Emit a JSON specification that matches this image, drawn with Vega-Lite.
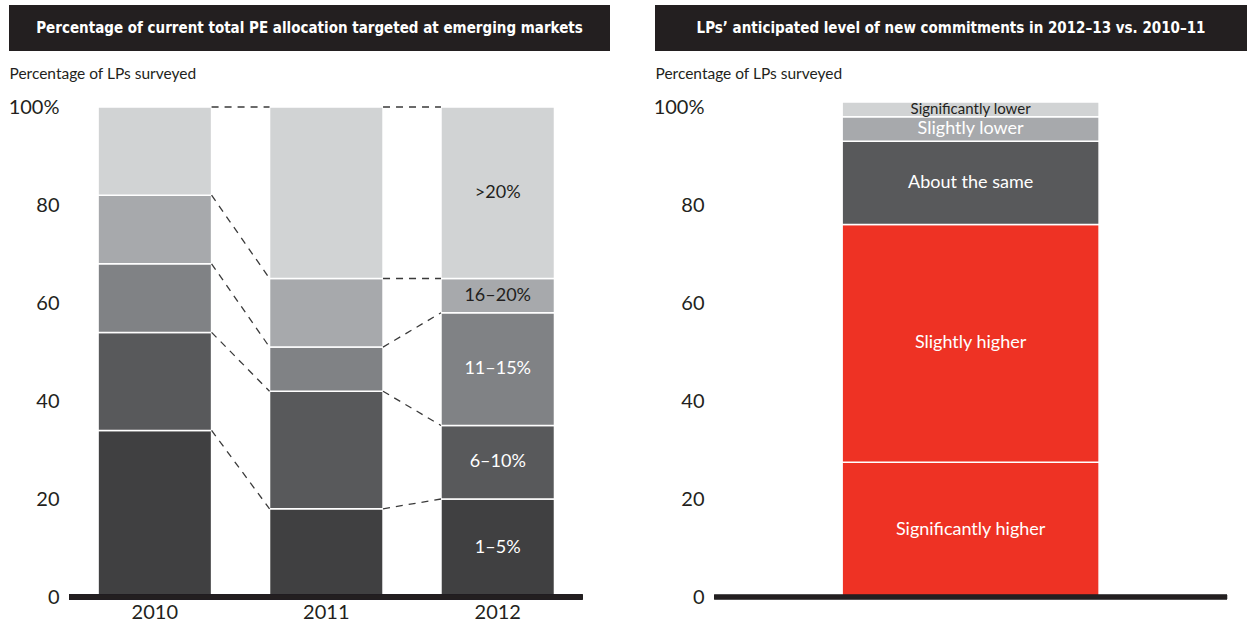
{
  "$schema": "https://vega.github.io/schema/vega-lite/v6.json",
  "padding": {"left": 8, "top": 5, "right": 0, "bottom": 0},
  "background": "white",
  "config": {"view": {"stroke": null}, "font": "Lato"},
  "datasets": {
    "alloc": [
      {"year": "2010", "cat": "1–5%", "value": 34, "order": 1},
      {"year": "2010", "cat": "6–10%", "value": 20, "order": 2},
      {"year": "2010", "cat": "11–15%", "value": 14, "order": 3},
      {"year": "2010", "cat": "16–20%", "value": 14, "order": 4},
      {"year": "2010", "cat": ">20%", "value": 18, "order": 5},
      {"year": "2011", "cat": "1–5%", "value": 18, "order": 1},
      {"year": "2011", "cat": "6–10%", "value": 24, "order": 2},
      {"year": "2011", "cat": "11–15%", "value": 9, "order": 3},
      {"year": "2011", "cat": "16–20%", "value": 14, "order": 4},
      {"year": "2011", "cat": ">20%", "value": 35, "order": 5},
      {"year": "2012", "cat": "1–5%", "value": 20, "order": 1},
      {"year": "2012", "cat": "6–10%", "value": 15, "order": 2},
      {"year": "2012", "cat": "11–15%", "value": 23, "order": 3},
      {"year": "2012", "cat": "16–20%", "value": 7, "order": 4},
      {"year": "2012", "cat": ">20%", "value": 35, "order": 5}
    ],
    "links": [
      {"from": "2010", "to": "2011", "a": 100, "b": 100},
      {"from": "2010", "to": "2011", "a": 82, "b": 65},
      {"from": "2010", "to": "2011", "a": 68, "b": 51},
      {"from": "2010", "to": "2011", "a": 54, "b": 42},
      {"from": "2010", "to": "2011", "a": 34, "b": 18},
      {"from": "2011", "to": "2012", "a": 100, "b": 100},
      {"from": "2011", "to": "2012", "a": 65, "b": 65},
      {"from": "2011", "to": "2012", "a": 51, "b": 58},
      {"from": "2011", "to": "2012", "a": 42, "b": 35},
      {"from": "2011", "to": "2012", "a": 18, "b": 20}
    ],
    "commit": [
      {"grp": "LPs", "cat": "Significantly higher", "value": 27.5, "order": 1},
      {"grp": "LPs", "cat": "Slightly higher", "value": 48.5, "order": 2},
      {"grp": "LPs", "cat": "About the same", "value": 17, "order": 3},
      {"grp": "LPs", "cat": "Slightly lower", "value": 5, "order": 4},
      {"grp": "LPs", "cat": "Significantly lower", "value": 3, "order": 5}
    ]
  },
  "spacing": 43,
  "resolve": {"scale": {"color": "independent", "size": "independent"}},
  "hconcat": [
    {
      "spacing": 15,
      "resolve": {"scale": {"color": "independent"}},
      "vconcat": [
        {
          "width": 601,
          "height": 46,
          "view": {"fill": "#231f20", "stroke": null},
          "data": {"values": [{"t": "Percentage of current total PE allocation targeted at emerging markets"}]},
          "mark": {"type": "text", "color": "white", "font": "DejaVu Sans Condensed", "fontWeight": "bold", "fontSize": 15, "align": "center", "baseline": "middle"},
          "encoding": {"text": {"field": "t"}}
        },
        {
          "width": 573,
          "height": 490,
          "data": {"name": "alloc"},
          "layer": [
            {
              "mark": {"type": "bar", "stroke": "white", "strokeWidth": 1.5},
              "encoding": {
                "x": {
                  "field": "year", "type": "nominal",
                  "scale": {"paddingInner": 0.338, "paddingOuter": 0.34, "align": 0.764},
                  "axis": {"title": null, "labelAngle": 0, "labelFontSize": 20, "labelColor": "#231f20", "labelPadding": 5, "ticks": false, "domain": false}
                },
                "y": {
                  "field": "value", "type": "quantitative", "stack": "zero",
                  "scale": {"domain": [0, 100], "nice": false},
                  "axis": {"offset": -60, "title": "Percentage of LPs surveyed", "titleAngle": 0, "titleAlign": "left", "titleBaseline": "middle", "titleX": -60, "titleY": -34, "titleFontSize": 15.5, "titleFontWeight": "normal", "titleColor": "#231f20", "values": [0, 20, 40, 60, 80, 100], "labelExpr": "datum.value == 100 ? '100%' : datum.label", "labelFontSize": 20, "labelColor": "#231f20", "labelPadding": 10, "ticks": false, "domain": false, "grid": false}
                },
                "color": {
                  "field": "cat", "type": "nominal",
                  "scale": {"domain": ["1–5%", "6–10%", "11–15%", "16–20%", ">20%"], "range": ["#404041", "#58595b", "#808285", "#a7a9ac", "#d1d3d4"]},
                  "legend": null
                },
                "order": {"field": "order", "type": "quantitative"}
              }
            },
            {
              "data": {"name": "links"},
              "mark": {"type": "rule", "strokeDash": [7, 6], "strokeWidth": 1.3, "color": "#3a3a3a"},
              "encoding": {
                "x": {"field": "from", "type": "nominal", "bandPosition": 1, "title": null},
                "x2": {"field": "to", "bandPosition": 0},
                "y": {"field": "a", "type": "quantitative"},
                "y2": {"field": "b"}
              }
            },
            {
              "transform": [{"filter": "datum.year == '2012'"}],
              "mark": {"type": "text", "fontSize": 18, "align": "center", "baseline": "middle"},
              "encoding": {
                "x": {"field": "year", "type": "nominal", "title": null},
                "y": {"field": "value", "type": "quantitative", "stack": "zero", "bandPosition": 0.5},
                "detail": {"field": "cat"},
                "order": {"field": "order", "type": "quantitative"},
                "text": {"field": "cat"},
                "color": {"condition": {"test": "datum.order >= 4", "value": "#231f20"}, "value": "white"}
              }
            },
            {
              "mark": {"type": "rule", "strokeWidth": 4.5, "color": "#231f20"},
              "encoding": {
                "x": {"datum": "2010", "type": "nominal", "bandPosition": -0.256},
                "x2": {"datum": "2012", "bandPosition": 1.247},
                "y": {"datum": 0, "type": "quantitative"}
              }
            }
          ]
        }
      ]
    },
    {
      "spacing": 15,
      "resolve": {"scale": {"color": "independent"}},
      "vconcat": [
        {
          "width": 592,
          "height": 46,
          "view": {"fill": "#231f20", "stroke": null},
          "data": {"values": [{"t": "LPs’ anticipated level of new commitments in 2012–13 vs. 2010–11"}]},
          "mark": {"type": "text", "color": "white", "font": "DejaVu Sans Condensed", "fontWeight": "bold", "fontSize": 15, "align": "center", "baseline": "middle"},
          "encoding": {"text": {"field": "t"}}
        },
        {
          "width": 572,
          "height": 490,
          "data": {"name": "commit"},
          "layer": [
            {
              "mark": {"type": "bar", "stroke": "white", "strokeWidth": 1.5},
              "encoding": {
                "x": {
                  "field": "grp", "type": "nominal",
                  "scale": {"paddingInner": 0, "paddingOuter": 0.613, "align": 0.594},
                  "axis": {"title": null, "labels": false, "ticks": false, "domain": false}
                },
                "y": {
                  "field": "value", "type": "quantitative", "stack": "zero",
                  "scale": {"domain": [0, 100], "nice": false},
                  "axis": {"offset": -59, "title": "Percentage of LPs surveyed", "titleAngle": 0, "titleAlign": "left", "titleBaseline": "middle", "titleX": -59, "titleY": -34, "titleFontSize": 15.5, "titleFontWeight": "normal", "titleColor": "#231f20", "values": [0, 20, 40, 60, 80, 100], "labelExpr": "datum.value == 100 ? '100%' : datum.label", "labelFontSize": 20, "labelColor": "#231f20", "labelPadding": 10, "ticks": false, "domain": false, "grid": false}
                },
                "color": {
                  "field": "cat", "type": "nominal",
                  "scale": {"domain": ["Significantly higher", "Slightly higher", "About the same", "Slightly lower", "Significantly lower"], "range": ["#ee3224", "#ee3224", "#58595b", "#a7a9ac", "#d1d3d4"]},
                  "legend": null
                },
                "order": {"field": "order", "type": "quantitative"}
              }
            },
            {
              "mark": {"type": "text", "align": "center", "baseline": "middle"},
              "encoding": {
                "x": {"field": "grp", "type": "nominal", "title": null},
                "y": {"field": "value", "type": "quantitative", "stack": "zero", "bandPosition": 0.5},
                "detail": {"field": "cat"},
                "order": {"field": "order", "type": "quantitative"},
                "text": {"field": "cat"},
                "size": {"condition": {"test": "datum.order == 5", "value": 15}, "value": 18},
                "color": {"condition": {"test": "datum.order == 5", "value": "#231f20"}, "value": "white"}
              }
            },
            {
              "mark": {"type": "rule", "strokeWidth": 4.5, "color": "#231f20"},
              "encoding": {
                "x": {"datum": "LPs", "type": "nominal", "bandPosition": -0.498},
                "x2": {"datum": "LPs", "bandPosition": 1.498},
                "y": {"datum": 0, "type": "quantitative"}
              }
            }
          ]
        }
      ]
    }
  ]
}
